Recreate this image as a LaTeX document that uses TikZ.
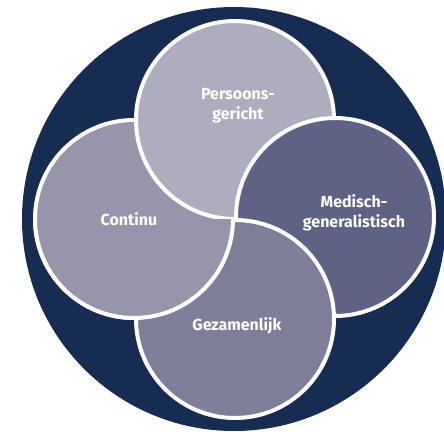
\documentclass[tikz,border=0pt]{standalone}
\usepackage{fontspec}
\setmainfont{Fira Sans}
\definecolor{navy}{HTML}{172C53}
\definecolor{ctop}{HTML}{AEADBF}
\definecolor{cleft}{HTML}{9795AB}
\definecolor{cright}{HTML}{5F6282}
\definecolor{cbottom}{HTML}{7F7E98}
\tikzset{
  petal/.style={draw=white, line width=4pt},
  lbl/.style={text=white, font=\fontsize{16}{20}\selectfont\bfseries, align=center, inner sep=0pt},
}
\begin{document}
\begin{tikzpicture}[x=1pt,y=-1pt]
\useasboundingbox (0,0) rectangle (444,431);
\fill[white] (0,0) rectangle (444,431);
\fill[navy] (234,219) circle[radius=212];
% petals
\path[petal, fill=cleft] (134,219) circle[radius=99];
\path[petal, fill=ctop] (235,120) circle[radius=99];
\path[petal, fill=cright] (335,217) circle[radius=99];
\path[petal, fill=cbottom] (235,319) circle[radius=99];
\begin{scope}
  \clip (0,219.5) rectangle (444,431);
  \path[petal, fill=cleft] (134,219) circle[radius=99];
\end{scope}
% labels
\node[lbl] (persoons) at (238,106) {Persoons-\\gericht};
\node[lbl] (continu) at (129,219) {Continu};
\node[lbl] (medisch) at (354,213) {Medisch-\\generalistisch};
\node[lbl] (gezamenlijk) at (237,326) {Gezamenlijk};
\end{tikzpicture}
\end{document}
